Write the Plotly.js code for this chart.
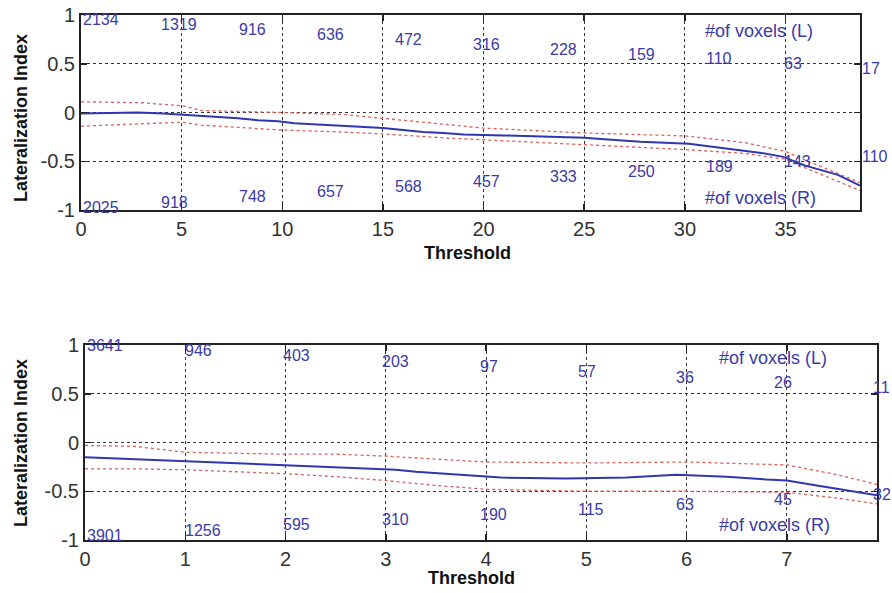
<!DOCTYPE html>
<html>
<head>
<meta charset="utf-8">
<script src="https://cdn.plot.ly/plotly-3.0.1.min.js"></script>
<style>html,body{margin:0;padding:0;background:#fff;}#chart{width:892px;height:593px;}</style>
</head>
<body>
<div id="chart"></div>
<script>
// ---- Top panel data ----
var topX = [0, 2.8, 4.1, 5.2, 6.5, 7.8, 8.8, 9.8, 10.6, 11.6, 12.8, 13.9, 15, 16, 17, 18, 19, 21, 24, 25, 26, 27.8, 30.2, 31.3, 32.6, 33.8, 34.9, 35.9, 37.6, 38.7];
var topMean = [-0.01, 0.0, -0.01, -0.025, -0.04, -0.06, -0.08, -0.09, -0.11, -0.12, -0.135, -0.15, -0.16, -0.18, -0.2, -0.21, -0.225, -0.235, -0.25, -0.26, -0.275, -0.3, -0.32, -0.35, -0.38, -0.415, -0.455, -0.54, -0.64, -0.75];
var topCiX = [0, 3, 5, 6, 10, 13, 15, 18, 20, 25, 30, 33, 35, 36, 38.7];
var topUpper = [0.11, 0.10, 0.07, 0.02, 0.0, -0.02, -0.06, -0.12, -0.16, -0.21, -0.24, -0.31, -0.4, -0.49, -0.72];
var topLower = [-0.14, -0.12, -0.10, -0.13, -0.18, -0.2, -0.22, -0.26, -0.28, -0.33, -0.38, -0.42, -0.48, -0.57, -0.8];
var topLCounts = ['2134','1319','916','636','472','316','228','159','110','63','17'];
var topRCounts = ['2025','918','748','657','568','457','333','250','189','143','110'];
var topXMax = 38.7;

// ---- Bottom panel data ----
var botX = [0, 0.5, 0.95, 1.33, 1.67, 2.03, 2.42, 2.85, 3.1, 3.3, 3.53, 3.77, 4.15, 4.8, 5.4, 5.9, 6.4, 6.8, 7.0, 7.3, 7.6, 7.9];
var botMean = [-0.15, -0.17, -0.19, -0.21, -0.22, -0.235, -0.25, -0.265, -0.28, -0.3, -0.315, -0.33, -0.36, -0.37, -0.36, -0.33, -0.35, -0.38, -0.39, -0.44, -0.49, -0.54];
var botCiX = [0, 0.5, 1, 1.5, 2, 2.5, 3, 3.5, 4, 5, 6, 7, 7.5, 7.9];
var botUpper = [-0.03, -0.04, -0.10, -0.11, -0.12, -0.12, -0.14, -0.17, -0.2, -0.21, -0.2, -0.23, -0.33, -0.43];
var botLower = [-0.27, -0.27, -0.28, -0.3, -0.32, -0.35, -0.39, -0.44, -0.48, -0.5, -0.5, -0.51, -0.57, -0.63];
var botLCounts = ['3641','946','403','203','97','57','36','26','11'];
var botRCounts = ['3901','1256','595','310','190','115','63','45','32'];
var botXMax = 7.9;

var legendL = '#of voxels (L)';
var legendR = '#of voxels (R)';
var yTitle = 'Lateralization Index';
var xTitle = 'Threshold';

var blue = '#2f36b0';
var txtBlue = '#3a3aa8';
var ciColor = '#d9605a';

var traces = [
  {x: topCiX, y: topUpper, xaxis:'x', yaxis:'y', mode:'lines', line:{color:ciColor, dash:'dot', width:1.3}},
  {x: topCiX, y: topLower, xaxis:'x', yaxis:'y', mode:'lines', line:{color:ciColor, dash:'dot', width:1.3}},
  {x: topX, y: topMean, xaxis:'x', yaxis:'y', mode:'lines', line:{color:blue, width:2}},
  {x: botCiX, y: botUpper, xaxis:'x2', yaxis:'y2', mode:'lines', line:{color:ciColor, dash:'dot', width:1.3}},
  {x: botCiX, y: botLower, xaxis:'x2', yaxis:'y2', mode:'lines', line:{color:ciColor, dash:'dot', width:1.3}},
  {x: botX, y: botMean, xaxis:'x2', yaxis:'y2', mode:'lines', line:{color:blue, width:2}}
];

var ann = [];
function lab(xr, yr, x, y, t, size) {
  ann.push({xref:xr, yref:yr, x:x, y:y, text:t, showarrow:false, xanchor:'left', yanchor:'middle',
    font:{family:'Liberation Sans, Arial, sans-serif', size:size||16, color:txtBlue}});
}
topLCounts.forEach(function(t,i){ lab('x','y', i*topXMax/10, 0.95-0.05*i, t); });
topRCounts.forEach(function(t,i){ lab('x','y', i*topXMax/10, -0.97+0.052*i, t); });
botLCounts.forEach(function(t,i){ lab('x2','y2', i*botXMax/8*0.992, 1.0-0.055*i, t); });
botRCounts.forEach(function(t,i){ lab('x2','y2', i*botXMax/8*0.992, -0.95+0.052*i, t); });
lab('x','y', 30.9, 0.835, legendL, 18);
lab('x','y', 30.9, -0.88, legendR, 18);
lab('x2','y2', 6.3, 0.87, legendL, 18);
lab('x2','y2', 6.3, -0.85, legendR, 18);

var titleFont = {family:'Liberation Sans, Arial, sans-serif', size:18, color:'#111', weight:'bold'};
ann.push({xref:'paper', yref:'paper', x:21/892, y:1-118/593, text:'<b>'+yTitle+'</b>', textangle:-90, showarrow:false, xanchor:'center', yanchor:'middle', font:titleFont});
ann.push({xref:'paper', yref:'paper', x:21/892, y:1-443/593, text:'<b>'+yTitle+'</b>', textangle:-90, showarrow:false, xanchor:'center', yanchor:'middle', font:titleFont});
ann.push({xref:'paper', yref:'paper', x:468/892, y:1-253/593, text:'<b>'+xTitle+'</b>', showarrow:false, xanchor:'center', yanchor:'middle', font:titleFont});
ann.push({xref:'paper', yref:'paper', x:471/892, y:1-578/593, text:'<b>'+xTitle+'</b>', showarrow:false, xanchor:'center', yanchor:'middle', font:titleFont});

var tickFont = {family:'Liberation Sans, Arial, sans-serif', size:20, color:'#333'};
function ax(extra) {
  var base = {showline:true, linecolor:'#222', linewidth:2, mirror:'ticks', ticks:'inside', ticklen:6, tickcolor:'#222', tickwidth:1.5,
    showgrid:true, gridcolor:'#333', griddash:'dot', gridwidth:1, zeroline:false, tickfont:tickFont, fixedrange:true};
  for (var k in extra) base[k] = extra[k];
  return base;
}

var layout = {
  width:892, height:593, showlegend:false,
  margin:{l:0, r:0, t:0, b:0},
  paper_bgcolor:'#fff', plot_bgcolor:'#fff',
  xaxis: ax({domain:[81/892, 860/892], range:[0, topXMax], tickvals:[0,5,10,15,20,25,30,35], anchor:'y'}),
  yaxis: ax({domain:[1-210/593, 1-15/593], range:[-1, 1], tickvals:[-1,-0.5,0,0.5,1], ticktext:['-1','-0.5','0','0.5','1'], anchor:'x'}),
  xaxis2: ax({domain:[85/892, 877/892], range:[0, botXMax], tickvals:[0,1,2,3,4,5,6,7], anchor:'y2'}),
  yaxis2: ax({domain:[1-540/593, 1-345/593], range:[-1, 1], tickvals:[-1,-0.5,0,0.5,1], ticktext:['-1','-0.5','0','0.5','1'], anchor:'x2'}),
  annotations: ann
};

Plotly.newPlot('chart', traces, layout, {displayModeBar:false, staticPlot:true});
</script>
</body>
</html>
